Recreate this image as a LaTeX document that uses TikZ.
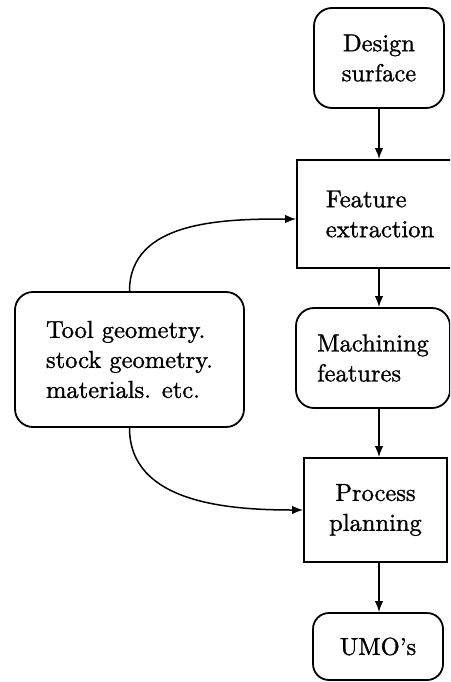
\documentclass[tikz,border=0pt]{standalone}
\usepackage{fontspec}
% the 10pt design size of Latin Modern, scaled up, for the wide book-style letters
\setmainfont{lmroman10-regular.otf}[FakeBold=1.2]
\usetikzlibrary{arrows.meta}
\begin{document}
\begin{tikzpicture}[x=1pt,y=-1pt,
  every node/.style={font=\fontsize{24.5}{30}\selectfont, inner sep=0pt},
  roundbox/.style={draw, line width=1.8pt, rounded corners=18pt},
  squarebox/.style={draw, line width=1.8pt},
  flow/.style={line width=1.5pt, -{Latex[length=11pt,width=8.5pt]}}]
\useasboundingbox (0,0) rectangle (450,682);
\clip (0,0) rectangle (450,682);
% main chain
\node[roundbox, minimum width=130pt, minimum height=100pt, align=center] (design) at (379,58) {Design\\surface};
\node[squarebox, minimum width=166pt, minimum height=108pt, align=left] (feature) at (380,214) {Feature\\extraction};
\node[roundbox, minimum width=154pt, minimum height=100pt, align=left] (machining) at (373,358) {Machining\\features};
\node[squarebox, minimum width=143pt, minimum height=104pt, align=center] (process) at (375.5,510) {Process\\planning};
\node[roundbox, minimum width=130pt, minimum height=67pt, rounded corners=16pt] (umo) at (378,646.5) {UMO's};
% side input
\node[roundbox, minimum width=229pt, minimum height=135pt, align=left] (tool) at (129.5,359.5) {Tool geometry.\\stock geometry.\\materials. etc.};
% connectors
\coordinate (x) at (379,0);
\draw[flow] (design.south -| x) -- (feature.north -| x);
\draw[flow] (feature.south -| x) -- (machining.north -| x);
\draw[flow] (machining.south -| x) -- (process.north -| x);
\draw[flow] (process.south -| x) -- (umo.north -| x);
\draw[flow] (tool.north) to[out=90,in=180] ([yshift=-5pt]feature.west);
\draw[flow] (tool.south) to[out=-90,in=180] (process.west);
\end{tikzpicture}
\end{document}
